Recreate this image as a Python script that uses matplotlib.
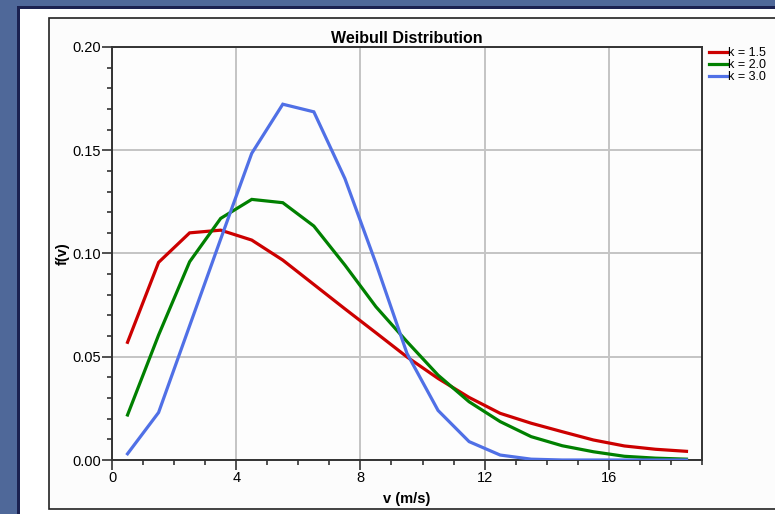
import matplotlib.pyplot as plt
from matplotlib.patches import Rectangle
from matplotlib.ticker import MultipleLocator, FormatStrFormatter

# wind speed bins (m/s)
v = [0.5, 1.5, 2.5, 3.5, 4.5, 5.5, 6.5, 7.5, 8.5, 9.5,
     10.5, 11.5, 12.5, 13.5, 14.5, 15.5, 16.5, 17.5, 18.5]

# probability density
f_k15 = [0.057, 0.0957, 0.110, 0.1113, 0.1065, 0.0968, 0.085, 0.0732, 0.0616, 0.0499,
         0.0395, 0.0303, 0.0226, 0.0178, 0.0137, 0.0097, 0.0068, 0.0052, 0.0042]
f_k20 = [0.0218, 0.0605, 0.096, 0.117, 0.1262, 0.1246, 0.1133, 0.0944, 0.0742, 0.0573,
         0.0411, 0.0282, 0.0186, 0.0113, 0.0069, 0.0040, 0.0018, 0.0009, 0.0004]
f_k30 = [0.003, 0.023, 0.065, 0.107, 0.1485, 0.1723, 0.1686, 0.1363, 0.0952, 0.0516,
         0.024, 0.0089, 0.0024, 0.0004, 0.0, 0.0, 0.0, 0.0, 0.0]

labels = ['k = 1.5', 'k = 2.0', 'k = 3.0']
colors = ['#cc0000', '#008000', '#5070e6']

plt.rcParams['font.family'] = ['Liberation Sans', 'DejaVu Sans']

W, H = 775, 514
fig = plt.figure(figsize=(W / 100, H / 100), dpi=100, facecolor='#4f6899')

# window frame: dark edge, white panel, inner chart box (behind the axes)
fig.patches.append(Rectangle((17 / W, 0), 1, 1 - 6 / H, transform=fig.transFigure,
                             facecolor='#1b2150', edgecolor='none', zorder=-3))
fig.patches.append(Rectangle((20 / W, 0), 1, 1 - 9 / H, transform=fig.transFigure,
                             facecolor='white', edgecolor='none', zorder=-2))
fig.patches.append(Rectangle((49 / W, 1 - 509 / H), 1, (509 - 18) / H, transform=fig.transFigure,
                             facecolor='#fcfcfc', edgecolor='#222222', linewidth=1.2, zorder=-1))

ax = fig.add_axes([112 / W, 1 - 460 / H, (702 - 112) / W, (460 - 47) / H])
ax.set_facecolor('#fdfdfd')

series = [f_k15, f_k20, f_k30]
for ys, lab, col in zip(series, labels, colors):
    ax.plot(v, ys, color=col, linewidth=2.3, label=lab, solid_joinstyle='miter', zorder=3)

ax.set_xlim(0, 19)
ax.set_ylim(0, 0.20)
ax.xaxis.set_major_locator(MultipleLocator(4))
ax.xaxis.set_minor_locator(MultipleLocator(1))
ax.yaxis.set_major_locator(MultipleLocator(0.05))
ax.yaxis.set_minor_locator(MultipleLocator(0.01))
ax.yaxis.set_major_formatter(FormatStrFormatter('%.2f'))

ax.tick_params(which='major', direction='out', length=7, width=1.2, color='#333333',
               labelsize=10.5, pad=1)
ax.tick_params(which='minor', direction='out', length=3.5, width=1.2, color='#333333')

ax.grid(True, which='major', color='#c4c4c4', linewidth=1.4, zorder=1)
for s in ax.spines.values():
    s.set_color('#333333')
    s.set_linewidth(1.4)

ax.set_title('Weibull Distribution', fontsize=11.5, fontweight='bold', pad=3)
ax.set_xlabel('v (m/s)', fontsize=10.5, fontweight='bold', labelpad=0)
ax.set_ylabel('f(v)', fontsize=10.5, fontweight='bold', labelpad=2)
ax.xaxis.set_label_coords(0.5, -0.077)

fig.legend(loc='upper left', bbox_to_anchor=(709 / W, 1 - 47 / H), frameon=False,
           fontsize=9, handlelength=1.4, handletextpad=0.15, labelspacing=0.02,
           borderpad=0, borderaxespad=0)

fig.savefig('out.png', dpi=100, facecolor=fig.get_facecolor())
